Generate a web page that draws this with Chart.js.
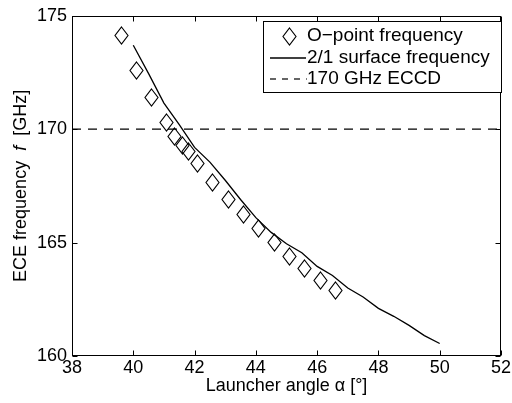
<!DOCTYPE html>
<html><head><meta charset="utf-8">
<script src="https://cdn.jsdelivr.net/npm/chart.js@4/dist/chart.umd.min.js"></script>
<style>html,body{margin:0;padding:0;background:#fff}</style>
</head><body>
<canvas id="c" width="512" height="403"></canvas>
<script>
// ---- data ----
const oPointAngle = [39.6, 40.1, 40.6, 41.1, 41.35, 41.6, 41.8, 42.1, 42.6, 43.1, 43.6, 44.1, 44.6, 45.1, 45.6, 46.1, 46.6];
const oPointFreq  = [174.15, 172.6, 171.4, 170.3, 169.7, 169.3, 169.0, 168.5, 167.65, 166.9, 166.25, 165.6, 165.0, 164.4, 163.85, 163.35, 162.9];
const surfAngle = [40, 40.5, 41, 41.5, 42, 42.5, 43, 43.5, 44, 44.5, 45, 45.5, 46, 46.5, 47, 47.5, 48, 48.5, 49, 49.5, 50];
const surfFreq  = [173.7, 172.45, 171.15, 170.2, 169.2, 168.55, 167.75, 166.9, 166.1, 165.45, 164.95, 164.55, 163.95, 163.55, 163.0, 162.6, 162.1, 161.75, 161.35, 160.9, 160.55];
const eccdAngle = [38, 52];
const eccdFreq  = [170, 170];
const xTicks = [38, 40, 42, 44, 46, 48, 50, 52];
const yTicks = [160, 165, 170, 175];
const seriesNames = ['O\u2212point frequency', '2/1 surface frequency', '170 GHz ECCD'];
const xTitle = 'Launcher angle \u03b1 [\u00b0]';
const yTitleParts = ['ECE frequency  ', 'f', '  [GHz]'];

const FONT = '"Liberation Sans", Arial, Helvetica, sans-serif';
const FS = 18;
const LFS = 19;

function toXY(xs, ys){ return xs.map((x,i)=>({x:x, y:ys[i]})); }

// diamond marker
function makeDiamond(){
  const w = 15, h = 19;
  const cv = document.createElement('canvas');
  cv.width = w; cv.height = h;
  const g = cv.getContext('2d');
  g.strokeStyle = '#000'; g.lineWidth = 1.15;
  g.beginPath();
  g.moveTo(w/2, 1); g.lineTo(w-1, h/2); g.lineTo(w/2, h-1); g.lineTo(1, h/2); g.closePath();
  g.stroke();
  return cv;
}
const diamond = makeDiamond();

const crispPlugin = {
  id: 'crisp',
  beforeDatasetsDraw(chart){ chart.ctx.imageSmoothingEnabled = false; },
  afterDatasetsDraw(chart){ chart.ctx.imageSmoothingEnabled = true; }
};

const framePlugin = {
  id: 'frame',
  afterDraw(chart){
    const ctx = chart.ctx;
    const a = chart.chartArea;
    const xs = chart.scales.x, ys = chart.scales.y;
    ctx.save();
    ctx.strokeStyle = '#000';
    ctx.lineWidth = 1;
    const L = Math.round(a.left)+0.5, R = Math.round(a.right)-0.5, T = Math.round(a.top)+0.5, B = Math.round(a.bottom)-0.5;
    ctx.strokeRect(L, T, R-L, B-T);
    const tl = 5;
    ctx.beginPath();
    xTicks.forEach(v=>{
      const p = Math.round(xs.getPixelForValue(v))+0.5;
      ctx.moveTo(p, B); ctx.lineTo(p, B-tl);
      ctx.moveTo(p, T); ctx.lineTo(p, T+tl);
    });
    yTicks.forEach(v=>{
      const p = Math.round(ys.getPixelForValue(v))+0.5;
      ctx.moveTo(L, p); ctx.lineTo(L+tl, p);
      ctx.moveTo(R, p); ctx.lineTo(R-tl, p);
    });
    ctx.stroke();

    // y axis title with italic f
    ctx.fillStyle = '#000';
    ctx.textBaseline = 'middle';
    const fN = FS + 'px ' + FONT, fI = 'italic ' + FS + 'px ' + FONT;
    const fonts = [fN, fI, fN];
    let widths = yTitleParts.map((t,i)=>{ ctx.font = fonts[i]; return ctx.measureText(t).width; });
    const total = widths.reduce((s,w)=>s+w,0);
    ctx.translate(21, (a.top + a.bottom)/2);
    ctx.rotate(-Math.PI/2);
    let xx = -total/2;
    ctx.textAlign = 'left';
    yTitleParts.forEach((t,i)=>{ ctx.font = fonts[i]; ctx.fillText(t, xx, 0); xx += widths[i]; });
    ctx.restore();

    // legend box
    ctx.save();
    const bx = 263.5, by = 21.5, bw = 238, bh = 71;
    ctx.fillStyle = '#fff';
    ctx.fillRect(bx, by, bw, bh);
    ctx.strokeStyle = '#000'; ctx.lineWidth = 1;
    ctx.strokeRect(bx, by, bw, bh);
    const rows = [36, 58, 79];
    const ds = chart.data.datasets;
    ctx.imageSmoothingEnabled = false;
    ctx.drawImage(diamond, 282, rows[0] - 9);
    ctx.lineWidth = ds[1].borderWidth;
    ctx.setLineDash([]);
    ctx.beginPath(); ctx.moveTo(270, rows[1]); ctx.lineTo(306, rows[1]); ctx.stroke();
    ctx.lineWidth = ds[2].borderWidth;
    ctx.setLineDash([6, 6]);
    ctx.beginPath(); ctx.moveTo(270, rows[2]); ctx.lineTo(307, rows[2]); ctx.stroke();
    ctx.setLineDash([]);
    ctx.fillStyle = '#000';
    ctx.font = LFS + 'px ' + FONT;
    ctx.textBaseline = 'middle';
    ctx.textAlign = 'left';
    seriesNames.forEach((t,i)=> ctx.fillText(t, 307, rows[i]));
    ctx.restore();
  }
};

new Chart(document.getElementById('c'), {
  type: 'scatter',
  data: {
    datasets: [
      { label: seriesNames[0], data: toXY(oPointAngle, oPointFreq), showLine: false,
        pointStyle: diamond, pointRadius: 8, borderColor: '#000', backgroundColor: 'rgba(0,0,0,0)' },
      { label: seriesNames[1], data: toXY(surfAngle, surfFreq), showLine: true, pointRadius: 0,
        borderColor: '#000', borderWidth: 1.3, tension: 0 },
      { label: seriesNames[2], data: toXY(eccdAngle, eccdFreq), showLine: true, pointRadius: 0,
        borderColor: '#000', borderWidth: 1.2, borderDash: [9, 7], tension: 0 }
    ]
  },
  options: {
    responsive: false,
    animation: false,
    devicePixelRatio: 1,
    layout: { padding: { top: 14, right: 7, left: 0, bottom: 0 } },
    plugins: { legend: { display: false }, tooltip: { enabled: false } },
    scales: {
      x: {
        type: 'linear', min: 38, max: 52,
        afterBuildTicks: s => { s.ticks = xTicks.map(v=>({value:v})); },
        ticks: { color: '#000', font: { family: FONT, size: FS }, padding: 1, maxRotation: 0, autoSkip: false },
        grid: { display: false, drawTicks: false },
        border: { display: false },
        title: { display: true, text: xTitle, color: '#000', font: { family: FONT, size: FS }, padding: { top: 0, bottom: 6 } },
        afterFit: s => { s.height = 47; }
      },
      y: {
        type: 'linear', min: 160, max: 175,
        afterBuildTicks: s => { s.ticks = yTicks.map(v=>({value:v})); },
        ticks: { color: '#000', font: { family: FONT, size: FS }, padding: 5, autoSkip: false },
        grid: { display: false, drawTicks: false },
        border: { display: false },
        afterFit: s => { s.width = 72; }
      }
    }
  },
  plugins: [crispPlugin, framePlugin]
});
</script>
</body></html>
